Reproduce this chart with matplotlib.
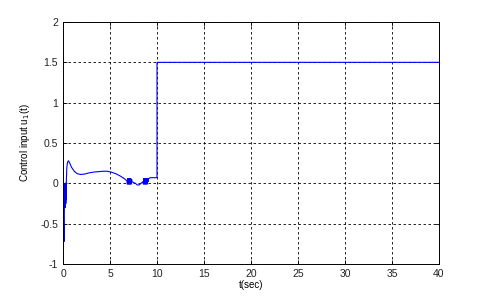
import matplotlib
matplotlib.use("Agg")
from matplotlib import pyplot as plt

# control input samples
t = [0, 0.06, 0.12, 0.16, 0.18, 0.2, 0.22, 0.24, 0.26, 0.28, 0.3, 0.32, 0.34, 0.36,
     0.41, 0.48, 0.58, 0.72, 0.9, 1.2, 1.5, 1.9, 2.3, 2.8, 3.3, 3.8, 4.3, 4.7, 5.1,
     5.6, 6.1, 6.5, 6.8, 6.85, 6.9, 6.95, 7.0, 7.05, 7.1, 7.15, 7.2, 7.25, 7.3, 7.35,
     7.5, 7.7, 7.9, 8.1, 8.3, 8.5, 8.55, 8.6, 8.65, 8.7, 8.75, 8.8, 8.85, 8.9, 8.95,
     9.0, 9.05, 9.1, 9.3, 9.6, 10.0, 10.0, 40]
u = [0.0, -0.5, -0.72, -0.05, -0.3, 0.0, -0.3, 0.0, -0.28, 0.0, -0.25, 0.0, -0.2, 0.05,
     0.2, 0.26, 0.28, 0.25, 0.2, 0.15, 0.12, 0.11, 0.115, 0.13, 0.14, 0.145, 0.15, 0.15, 0.14,
     0.12, 0.09, 0.06, 0.03, -0.01, 0.06, -0.01, 0.06, -0.01, 0.06, -0.01, 0.06, -0.01, 0.05, 0.02,
     0.01, 0.0, -0.02, -0.02, 0.0, 0.02, -0.01, 0.06, -0.01, 0.06, -0.01, 0.06, -0.01, 0.06, -0.01,
     0.06, 0.02, 0.06, 0.07, 0.07, 0.07, 1.5, 1.5]

x_ticks = [0, 5, 10, 15, 20, 25, 30, 35, 40]
y_ticks = [-1, -0.5, 0, 0.5, 1, 1.5, 2]
y_tick_labels = ["-1", "-0.5", "0", "0.5", "1", "1.5", "2"]

plt.rcParams['font.family'] = ['Liberation Sans', 'DejaVu Sans']

fig = plt.figure(figsize=(4.84, 2.96), dpi=100)
ax = fig.add_axes([63 / 484, 32 / 296, 376 / 484, 242 / 296])

ax.plot(t, u, color='#0000ff', lw=0.8)

ax.set_xlim(0, 40)
ax.set_ylim(-1, 2)
ax.set_xticks(x_ticks)
ax.set_yticks(y_ticks)
ax.set_yticklabels(y_tick_labels)
ax.tick_params(direction='in', length=3, labelsize=7.5, width=0.6, top=True, right=True,
               labelcolor='#222222')
ax.grid(True, color='black', linestyle=(0, (3, 3)), lw=0.6)
for s in ax.spines.values():
    s.set_linewidth(0.7)

ax.set_xlabel("t(sec)", fontsize=7, labelpad=1)
ax.set_ylabel("Control input u$_1$(t)", fontsize=7, labelpad=6)

fig.savefig("out.png", dpi=100)
